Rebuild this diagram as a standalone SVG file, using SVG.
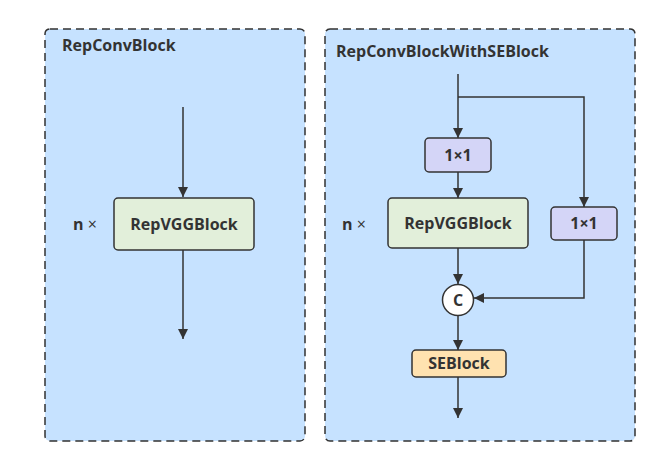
<svg xmlns="http://www.w3.org/2000/svg" width="660" height="466" viewBox="0 0 660 466">
<style>
.cont{fill:#c6e2ff;stroke:#323232;stroke-width:1.5;stroke-dasharray:8 5}
.t{font-family:"Open Sans","Liberation Sans",sans-serif;font-weight:bold;fill:#333;font-size:16px}
.c{text-anchor:middle}
.node{stroke:#333;stroke-width:1.5}
.e{fill:none;stroke:#333;stroke-width:1.5}
</style>
<defs>
<marker id="ah" markerWidth="12" markerHeight="12" refX="10" refY="5" orient="auto" markerUnits="userSpaceOnUse"><path d="M0,0 L10,5 L0,10 Z" fill="#333"/></marker>
</defs>
<g id="left-container"><rect class="cont" x="45" y="29" width="260" height="412" rx="5"/><text class="t" x="62" y="51">RepConvBlock</text></g>
<g id="right-container"><rect class="cont" x="325" y="29" width="310" height="412" rx="5"/><text class="t" x="336" y="57">RepConvBlockWithSEBlock</text></g>
<g id="connectors">
<path class="e" d="M183,107 V197" marker-end="url(#ah)"/>
<path class="e" d="M183,250 V339" marker-end="url(#ah)"/>
<path class="e" d="M458,74 V138" marker-end="url(#ah)"/>
<path class="e" d="M458,97 H584 V207" marker-end="url(#ah)"/>
<path class="e" d="M458,172 V198" marker-end="url(#ah)"/>
<path class="e" d="M458,248 V284" marker-end="url(#ah)"/>
<path class="e" d="M584,240 V298 H474" marker-end="url(#ah)"/>
<path class="e" d="M458,316 V350" marker-end="url(#ah)"/>
<path class="e" d="M458,377 V418" marker-end="url(#ah)"/>
</g>
<g id="n-left"><text class="t" x="73" y="230">n <tspan font-weight="normal">×</tspan></text></g>
<g id="repvgg-left"><rect class="node" x="114" y="198" width="140" height="52" rx="4" fill="#e2efda"/><text class="t c" x="184" y="230">RepVGGBlock</text></g>
<g id="conv1-top"><rect class="node" x="425" y="138" width="66" height="34" rx="4" fill="#d4d5f7"/><text class="t c" x="458" y="161">1×1</text></g>
<g id="n-right"><text class="t" x="342" y="230">n <tspan font-weight="normal">×</tspan></text></g>
<g id="repvgg-right"><rect class="node" x="388" y="198" width="140" height="50" rx="4" fill="#e2efda"/><text class="t c" x="458" y="229">RepVGGBlock</text></g>
<g id="conv1-side"><rect class="node" x="551" y="207" width="66" height="33" rx="4" fill="#d4d5f7"/><text class="t c" x="584" y="229">1×1</text></g>
<g id="concat"><circle class="node" cx="458" cy="300" r="15.5" fill="#fff"/><text class="t c" x="458" y="306">C</text></g>
<g id="seblock"><rect class="node" x="412" y="350" width="94" height="27" rx="4" fill="#ffe2b0"/><text class="t c" x="459" y="369">SEBlock</text></g>
</svg>
